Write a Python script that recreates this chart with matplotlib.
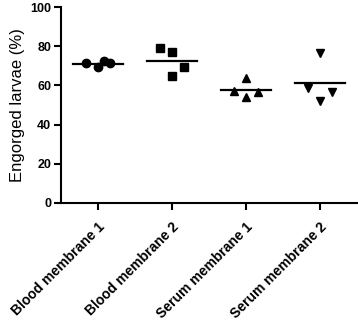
import numpy as np
import matplotlib
matplotlib.use('Agg')
from matplotlib import pyplot as plt

plt.rcParams['font.family'] = ['Liberation Sans', 'DejaVu Sans']

groups = ['Blood membrane 1', 'Blood membrane 2', 'Serum membrane 1', 'Serum membrane 2']
blood1 = [71.6, 69.5, 72.3, 71.3]
blood2 = [79.2, 76.9, 69.5, 64.9]
serum1 = [57.1, 63.6, 54.2, 56.5]
serum2 = [58.5, 76.8, 56.8, 52.0]
# horizontal jitter of the points inside each column
jitter1 = [-0.16, 0.0, 0.08, 0.16]
jitter2 = [-0.16, 0.0, 0.16, 0.0]
jitter3 = [-0.16, 0.0, 0.0, 0.16]
jitter4 = [-0.16, 0.0, 0.16, 0.0]

series = [blood1, blood2, serum1, serum2]
jitters = [jitter1, jitter2, jitter3, jitter4]
markers = ['o', 's', '^', 'v']

fig = plt.figure(figsize=(3.58, 3.22), dpi=100)
ax = fig.add_axes([0.170, 0.370, 0.827, 0.608])

for i, (vals, jit, m) in enumerate(zip(series, jitters, markers)):
    pos = i + 1
    ax.plot(np.array(jit) + pos, vals, linestyle='none', marker=m,
            color='black', markersize=6, zorder=3)
    mean = np.mean(vals)
    ax.plot([pos - 0.34, pos + 0.34], [mean, mean], color='black',
            linewidth=1.6, zorder=2)

ax.set_xlim(0.5, 4.5)
ax.set_ylim(0, 100)
ax.set_yticks([0, 20, 40, 60, 80, 100])
ax.set_xticks([1, 2, 3, 4])
ax.set_xticklabels(groups, rotation=45, ha='right', rotation_mode='anchor',
                   fontsize=10, fontweight='bold')
for lab in ax.get_yticklabels():
    lab.set_fontweight('bold')
    lab.set_fontsize(9)
ax.set_ylabel('Engorged larvae (%)', fontsize=12, labelpad=4)

ax.spines['top'].set_visible(False)
ax.spines['right'].set_visible(False)
ax.spines['left'].set_linewidth(1.5)
ax.spines['bottom'].set_linewidth(1.5)
ax.tick_params(axis='both', direction='out', length=5, width=1.5, pad=2)
ax.tick_params(axis='x', pad=7)

fig.savefig('out.png', dpi=100)
